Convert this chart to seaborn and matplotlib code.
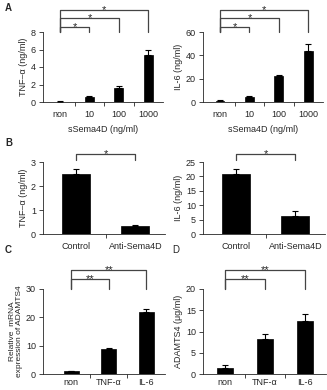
import matplotlib
matplotlib.use("Agg")
import matplotlib.pyplot as plt
import matplotlib.transforms as mtransforms
import numpy as np
import seaborn as sns

# panel A: sSema4D dose response
dose_labels = ['non', '10', '100', '1000']
tnf_dose = [0.05, 0.6, 1.65, 5.4]
tnf_dose_err = [0.02, 0.1, 0.2, 0.6]
il6_dose = [1.0, 4.0, 22.0, 44.0]
il6_dose_err = [0.8, 1.0, 1.5, 6.0]

# panel B: antibody blocking
ab_labels = ['Control', 'Anti-Sema4D']
tnf_ab = [2.5, 0.33]
tnf_ab_err = [0.2, 0.03]
il6_ab = [21.0, 6.2]
il6_ab_err = [1.5, 1.7]

# panels C/D: ADAMTS4
stim_labels = ['non', 'TNF-α', 'IL-6']
mrna = [1.0, 8.8, 22.0]
mrna_err = [0.2, 0.3, 0.8]
protein = [1.5, 8.3, 12.4]
protein_err = [0.6, 1.2, 1.8]

sns.set_style("ticks")
plt.rcParams['font.family'] = ['Liberation Sans', 'DejaVu Sans']
FS = 6.5

fig = plt.figure(figsize=(3.27, 3.90), dpi=100)
W, H = 327.0, 390.0


def make_ax(x0, x1, ytop, ybot):
    return fig.add_axes([x0 / W, 1 - ybot / H, (x1 - x0) / W, (ybot - ytop) / H])


def bars(ax, labels, vals, errs, width, xlim, ylim, yticks, ylabel,
         xlabel=None, xpad=6, ylfs=FS):
    sns.barplot(x=labels, y=vals, color='black', width=width, ax=ax,
                saturation=1, edgecolor='black', linewidth=0.5, errorbar=None)
    n = len(vals)
    ax.errorbar(np.arange(n), vals, yerr=[np.zeros(n), errs], fmt='none',
                ecolor='black', elinewidth=0.8, capsize=2, capthick=0.8)
    ax.set_xlim(*xlim)
    ax.set_ylim(*ylim)
    ax.set_yticks(yticks)
    ax.set_xticks(np.arange(n))
    ax.set_xticks(np.arange(n - 1) + 0.5, minor=True)
    ax.tick_params(axis='x', which='major', length=0, labelsize=FS, pad=xpad)
    ax.tick_params(axis='x', which='minor', length=3, width=0.6, direction='out')
    ax.tick_params(axis='y', length=3, width=0.6, labelsize=FS, pad=2)
    ax.set_ylabel(ylabel, fontsize=ylfs, labelpad=2, linespacing=1.1)
    if xlabel:
        ax.set_xlabel(xlabel, fontsize=FS, labelpad=4)
    else:
        ax.set_xlabel('')
    sns.despine(ax=ax)
    for s in ['left', 'bottom']:
        ax.spines[s].set_linewidth(0.6)


def bracket(ax, x0, x1, y, ydrop, label):
    tr = mtransforms.blended_transform_factory(ax.transData, ax.transAxes)
    ax.plot([x0, x0, x1, x1], [ydrop, y, y, ydrop], color='#444444', lw=0.9,
            transform=tr, clip_on=False)
    ax.annotate(label, xy=((x0 + x1) / 2, y), xycoords=tr, xytext=(0, -2.2),
                textcoords='offset points', ha='center', va='baseline',
                fontsize=8, annotation_clip=False)


# A left
ax = make_ax(43, 163, 32, 102)
bars(ax, dose_labels, tnf_dose, tnf_dose_err, 0.3, (-0.58, 3.5), (0, 8),
     [0, 2, 4, 6, 8], 'TNF–α (ng/ml)', 'sSema4D (ng/ml)')
for xr, yb in [(1, 1.07), (2, 1.2), (3, 1.31)]:
    bracket(ax, 0, xr, yb, 1.0, '*')

# A right
ax = make_ax(203, 323, 32, 102)
bars(ax, dose_labels, il6_dose, il6_dose_err, 0.3, (-0.58, 3.5), (0, 60),
     [0, 20, 40, 60], 'IL-6 (ng/ml)', 'sSema4D (ng/ml)')
for xr, yb in [(1, 1.07), (2, 1.2), (3, 1.31)]:
    bracket(ax, 0, xr, yb, 1.0, '*')

# B left
ax = make_ax(43, 165, 162, 234)
bars(ax, ab_labels, tnf_ab, tnf_ab_err, 0.47, (-0.56, 1.5), (0, 3),
     [0, 1, 2, 3], 'TNF–α (ng/ml)')
bracket(ax, 0, 1, 1.11, 1.03, '*')

# B right
ax = make_ax(203, 325, 162, 234)
bars(ax, ab_labels, il6_ab, il6_ab_err, 0.47, (-0.56, 1.5), (0, 25),
     [0, 5, 10, 15, 20, 25], 'IL-6 (ng/ml)')
bracket(ax, 0, 1, 1.11, 1.03, '*')

# C
ax = make_ax(43, 165, 289, 374)
bars(ax, stim_labels, mrna, mrna_err, 0.4, (-0.75, 2.5), (0, 30),
     [0, 10, 20, 30], 'Relative  mRNA\nexpression of ADAMTS4', xpad=3, ylfs=6)
bracket(ax, 0, 1, 1.12, 1.0, '**')
bracket(ax, 0, 2, 1.22, 1.0, '**')

# D
ax = make_ax(203, 326, 289, 374)
bars(ax, stim_labels, protein, protein_err, 0.4, (-0.55, 2.52), (0, 20),
     [0, 5, 10, 15, 20], 'ADAMTS4 (μg/ml)', xpad=3)
bracket(ax, 0, 1, 1.12, 1.0, '**')
bracket(ax, 0, 2, 1.22, 1.0, '**')

# panel letters
fig.text(5 / W, 1 - 8 / H, 'A', fontsize=7, fontweight='bold', va='center')
fig.text(5 / W, 1 - 143 / H, 'B', fontsize=7, fontweight='bold', va='center')
fig.text(5 / W, 1 - 250 / H, 'C', fontsize=7, fontweight='bold', va='center')
fig.text(172 / W, 1 - 250 / H, 'D', fontsize=7, va='center')

fig.savefig('out.png', dpi=100)
